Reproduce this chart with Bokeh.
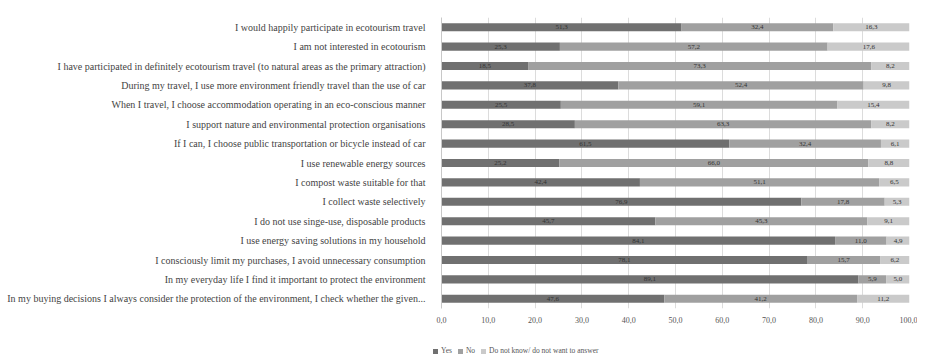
from bokeh.plotting import figure
from bokeh.layouts import column
from bokeh.models import ColumnDataSource, FactorRange, FixedTicker, LabelSet, Div
from bokeh.core.properties import value
from bokeh.embed import file_html
from bokeh.resources import INLINE

categories = [
    "I would happily participate in ecotourism travel",
    "I am not interested in ecotourism",
    "I have participated in definitely ecotourism travel (to natural areas as the primary attraction)",
    "During my travel, I use more environment friendly travel than the use of car",
    "When I travel, I choose accommodation operating in an eco-conscious manner",
    "I support nature and environmental protection organisations",
    "If I can, I choose public transportation or bicycle instead of car",
    "I use renewable energy sources",
    "I compost waste suitable for that",
    "I collect waste selectively",
    "I do not use singe-use, disposable products",
    "I use energy saving solutions in my household",
    "I consciously limit my purchases, I avoid unnecessary consumption",
    "In my everyday life I find it important to protect the environment",
    "In my buying decisions I always consider the protection of the environment, I check whether the given...",
]
yes = [51.3, 25.3, 18.5, 37.8, 25.5, 28.5, 61.5, 25.2, 42.4, 76.9, 45.7, 84.1, 78.1, 89.1, 47.6]
no = [32.4, 57.2, 73.3, 52.4, 59.1, 63.3, 32.4, 66.0, 51.1, 17.8, 45.3, 11.0, 15.7, 5.9, 41.2]
dk = [16.3, 17.6, 8.2, 9.8, 15.4, 8.2, 6.1, 8.8, 6.5, 5.3, 9.1, 4.9, 6.2, 5.0, 11.2]
series_names = ["Yes", "No", "Do not know/ do not want to answer"]
colors = ["#707070", "#a0a0a0", "#cacaca"]
tick_values = [0, 10, 20, 30, 40, 50, 60, 70, 80, 90, 100]
tick_labels = ["0,0", "10,0", "20,0", "30,0", "40,0", "50,0", "60,0", "70,0", "80,0", "90,0", "100,0"]

FONT = "Liberation Serif"

def fmt(v):
    return ("%.1f" % v).replace(".", ",")

p = figure(width=917, height=325, output_backend="svg", toolbar_location=None,
           y_range=FactorRange(factors=list(reversed(categories))),
           x_range=(0, 100))
p.min_border_left = 441
p.min_border_right = 8
p.min_border_top = 17
p.min_border_bottom = 12

left = [0.0] * len(categories)
for name, vals, col in zip(series_names, [yes, no, dk], colors):
    right = [l + v for l, v in zip(left, vals)]
    src = ColumnDataSource(dict(y=categories, left=left, right=right,
                                mid=[(l + r) / 2 for l, r in zip(left, right)],
                                lab=[fmt(v) for v in vals]))
    p.hbar(y="y", left="left", right="right", height=0.42, source=src,
           fill_color=col, line_color=None)
    ls = LabelSet(x="mid", y="y", text="lab", source=src, text_font=value(FONT),
                  text_font_size="7px", text_color="#333333", text_align="center",
                  text_baseline="middle")
    p.add_layout(ls)
    left = right

p.xaxis.ticker = FixedTicker(ticks=tick_values)
p.xaxis.major_label_overrides = {t: l for t, l in zip(tick_values, tick_labels)}
p.xaxis.axis_line_color = None
p.xaxis.major_tick_line_color = None
p.xaxis.minor_tick_line_color = None
p.xaxis.major_label_text_font = FONT
p.xaxis.major_label_text_font_size = "8px"
p.xaxis.major_label_text_color = "#555555"
p.xaxis.major_label_standoff = 2

p.yaxis.axis_line_color = "#c8c8c8"
p.yaxis.major_tick_line_color = None
p.yaxis.minor_tick_line_color = None
p.yaxis.major_label_text_font = FONT
p.yaxis.major_label_text_font_size = "10px"
p.yaxis.major_label_text_color = "#444444"
p.yaxis.major_label_standoff = 10

p.ygrid.grid_line_color = None
p.xgrid.grid_line_color = "#dcdcdc"
p.outline_line_color = None

# legend strip below the chart
swatch = ('<span style="display:inline-block;width:5px;height:5px;background:{c};'
          'margin:0 3px 0 {m}px;vertical-align:middle"></span>{n}')
legend_html = "".join(swatch.format(c=c, n=n, m=(0 if i == 0 else 6))
                      for i, (n, c) in enumerate(zip(series_names, colors)))
legend_div = Div(
    text=('<div style="padding:17px 0 0 428px;font-family:\'Liberation Serif\';'
          'font-size:7.5px;line-height:8px;color:#555555;white-space:nowrap">'
          + legend_html + '</div>'),
    width=917, height=28)

open("out.html", "w").write(file_html(column(p, legend_div, spacing=0), INLINE))
